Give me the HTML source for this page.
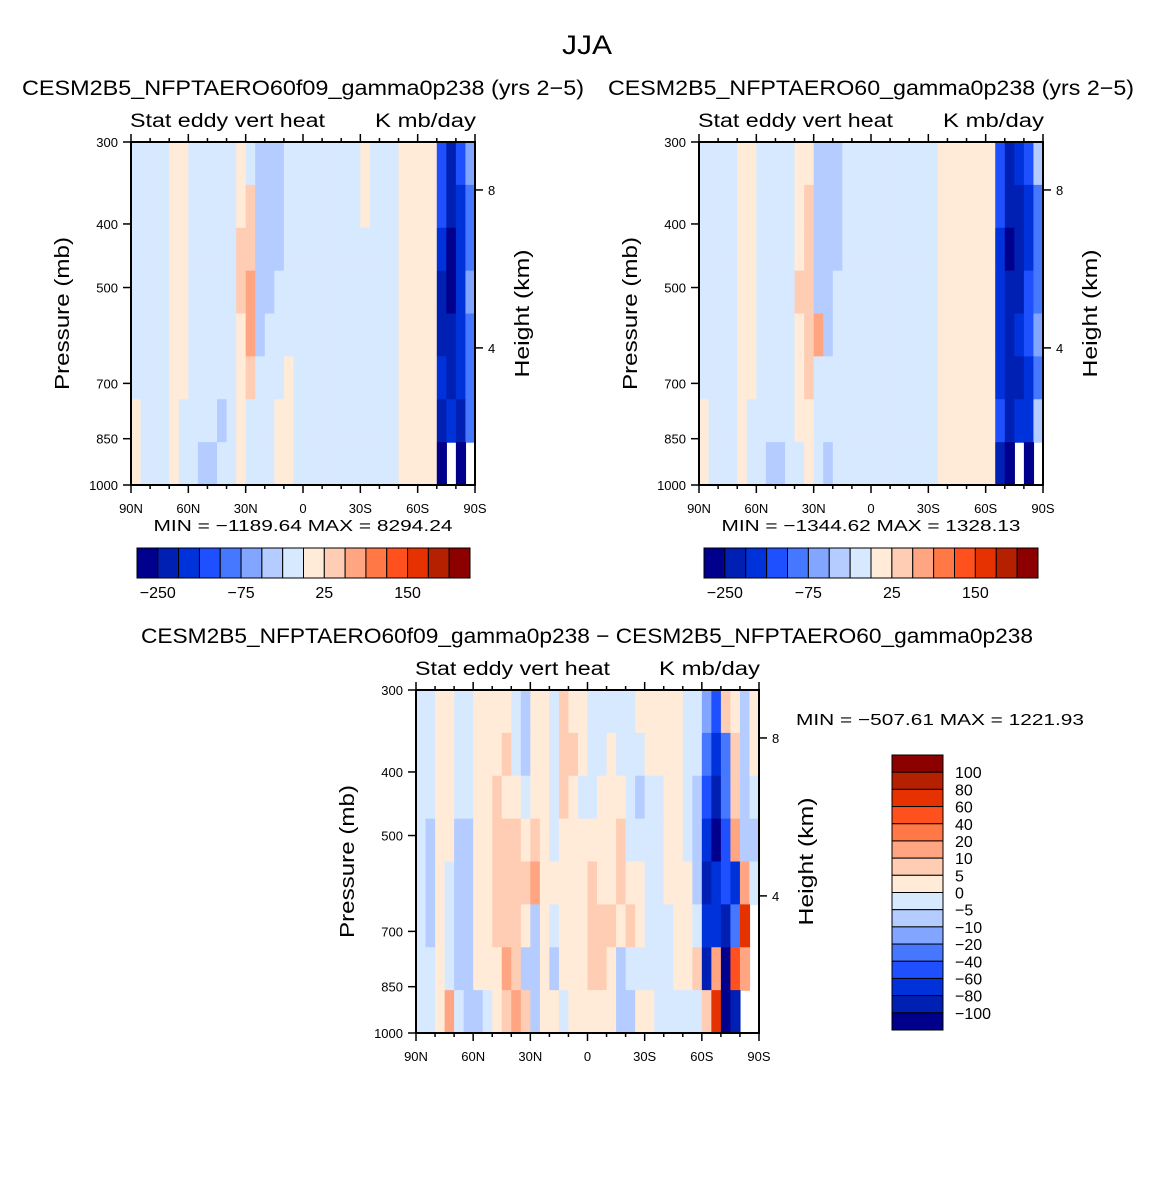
<!DOCTYPE html>
<html><head><meta charset="utf-8">
<style>
body{margin:0;background:#fff;}
svg text{font-family:"Liberation Sans","DejaVu Sans",sans-serif;fill:#000;}
</style></head>
<body>
<svg id="fig" width="1175" height="1175" viewBox="0 0 1175 1175" xmlns="http://www.w3.org/2000/svg">
<rect width="1175" height="1175" fill="#fff"/>
<text x="587" y="54" font-size="27" text-anchor="middle" textLength="50" lengthAdjust="spacingAndGlyphs">JJA</text>
<g id="root"></g>
</svg>
<script>
const palette=["#00008c","#0020b4","#0032dc","#1e50ff","#4678ff","#82a5ff","#b4ccff","#d7e9ff","#ffebd7","#ffcdb4","#ffa582","#ff7846","#ff501e","#e63200","#b42000","#8c0000"];
const latLabels=["90N","60N","30N","0","30S","60S","90S"];
const pTicks=[300,400,500,700,850,1000];
const hTicks=[8,4];
const hPress=[355,618];
const cbLabels1=["-250","-75","25","150"];
const cbLabels3=["100","80","60","40","20","10","5","0","-5","-10","-20","-40","-60","-80","-100"];
const field1=[
"777788777778766677777777877788883135",
"777788777778966677777777877788883124",
"777788777779966677777777777788882024",
"777788777779a66777777777777788881025",
"777788777778a67777777777777788881124",
"777788777778977787777777777788882124",
"877787777678777887777777777788881214",
"877787766778777887777777777788880.0."];
const field2=[
"777788777788666777777777788888831236",
"777788777789666777777777788888831124",
"777788777789666777777777788888820124",
"777788777799667777777777788888821134",
"777788777789a67777777777788888821235",
"777788777789777777777777788888821124",
"877787777788777777777777788888831226",
"877787766778767777777777788888810.0."];
const field3=[
"778877888876887988777778888877539868",
"778877888976887998778777888877424968",
"778877889887887987788876778876314967",
"768866889998987888888977778876203a66",
"768766889999a888889889887788861232a7",
"7687668899986878889998987778872214d.",
"778766888a966868889986777778891a0ca.",
"778a766789a96887888886688777779d01.."];
const root=document.getElementById('root');
const NS="http://www.w3.org/2000/svg";
function mk(tag,attrs,parent){const e=document.createElementNS(NS,tag);for(const k in attrs)e.setAttribute(k,attrs[k]);(parent||root).appendChild(e);return e;}
function txt(s,x,y,size,anchor,parent,rot,len){const t=mk('text',{x:x,y:y,'font-size':size,'text-anchor':anchor||'start'},parent);if(rot)t.setAttribute('transform','rotate(-90 '+x+' '+y+')');if(len){t.setAttribute('textLength',len);t.setAttribute('lengthAdjust','spacingAndGlyphs');}t.textContent=s;return t;}

function panel(x0,y0,w,h,field,name){
  const g=mk('g',{});
  
  
  const ncol=field[0].length,nrow=field.length;
  const xs=lat=>x0+(90-lat)/180*w;
  const ys=p=>y0+Math.log(p/300)/Math.log(1000/300)*h;
  const dx=w/ncol,dy=h/nrow;
  for(let r=0;r<nrow;r++)for(let c=0;c<ncol;c++){
    const ch=field[r][c];if(ch==='.')continue;
    const lat=90-c*180/ncol;
    const rc=mk('rect',{x:xs(lat).toFixed(2),y:(y0+r*dy).toFixed(2),width:(dx+0.6).toFixed(2),height:(dy+0.6).toFixed(2),fill:palette[parseInt(ch,16)]},g);
    
    
  }
  const fr=mk('rect',{x:x0,y:y0,width:w,height:h,fill:'none',stroke:'#000','stroke-width':2},g);
  
  
  for(let lat=90;lat>=-90;lat-=10){
    const major=lat%30===0;const X=xs(lat);
    mk('line',{x1:X,x2:X,y1:y0+h,y2:y0+h+(major?8:4),stroke:'#000','stroke-width':1.5},g);
    mk('line',{x1:X,x2:X,y1:y0,y2:y0-(major?8:4),stroke:'#000','stroke-width':1.5},g);
  }
  latLabels.forEach((l,i)=>{const t=txt(l,xs(90-30*i),y0+h+28,13,'middle',g);
    
    });
  pTicks.forEach(p=>{const Y=ys(p);
    mk('line',{x1:x0-8,x2:x0,y1:Y,y2:Y,stroke:'#000','stroke-width':1.5},g);
    const t=txt(String(p),x0-13,Y+5,13,'end',g);
    
    });
  hTicks.forEach((hk,i)=>{const Y=ys(hPress[i]);
    mk('line',{x1:x0+w,x2:x0+w+8,y1:Y,y2:Y,stroke:'#000','stroke-width':1.5},g);
    const t=txt(String(hk),x0+w+13,Y+5,13,'start',g);
    
    });
  const yt=txt('Pressure (mb)',x0-62,y0+h/2,20,'middle',g,true,153);
  
  
  const rt=txt('Height (km)',x0+w+54,y0+h/2,20,'middle',g,true,128);
  
  
  const s1=txt('Stat eddy vert heat',x0-1,y0-15,19,'start',g,false,195);
  
  
  const s2=txt('K mb/day',x0+w+1,y0-15,19,'end',g,false,101);
  
  
}
function hbar(x0,y0,w,h,name){
  const g=mk('g',{});
  
  
  const bw=w/palette.length;
  palette.forEach((c,i)=>{const r=mk('rect',{x:x0+i*bw,y:y0,width:bw,height:h,fill:c,stroke:'#000','stroke-width':1},g);
    
    });
  cbLabels1.forEach((l,i)=>{const t=txt(l.replace('-','\u2212'),x0+(1+4*i)*bw,y0+50,16,'middle',g);
    
    });
}
function vbar(x0,y0,w,h,name){
  const g=mk('g',{});
  
  
  const bh=h/palette.length;
  palette.slice().reverse().forEach((c,i)=>{const r=mk('rect',{x:x0,y:y0+i*bh,width:w,height:bh,fill:c,stroke:'#000','stroke-width':1},g);
    
    });
  cbLabels3.forEach((l,i)=>{const t=txt(l.replace('-','\u2212'),x0+w+12,y0+(i+1)*bh+6,16,'start',g);
    
    });
}
panel(131,142,344,343,field1,'panel-experiment');
panel(699,142,344,343,field2,'panel-control');
panel(416,690,343,343,field3,'panel-difference');
hbar(137,548,333,30,'colorbar-experiment');
hbar(704,548,334,30,'colorbar-control');
vbar(892,755,51,275,'colorbar-difference');
const titles=[["CESM2B5_NFPTAERO60f09_gamma0p238 (yrs 2\u22125)",303,95,562],["CESM2B5_NFPTAERO60_gamma0p238 (yrs 2\u22125)",871,95,526],["CESM2B5_NFPTAERO60f09_gamma0p238 \u2212 CESM2B5_NFPTAERO60_gamma0p238",587,643,892]];
titles.forEach(t=>{const e=txt(t[0],t[1],t[2],21,'middle',null,false,t[3]);
  
  });
const stats=[["MIN = \u22121189.64   MAX = 8294.24",303,531,'middle',299],["MIN = \u22121344.62   MAX = 1328.13",871,531,'middle',299],["MIN = \u2212507.61   MAX = 1221.93",796,725,'start',288]];
stats.forEach(t=>{const e=txt(t[0],t[1],t[2],16,t[3],null,false,t[4]);
  
  });
</script>
</body></html>
